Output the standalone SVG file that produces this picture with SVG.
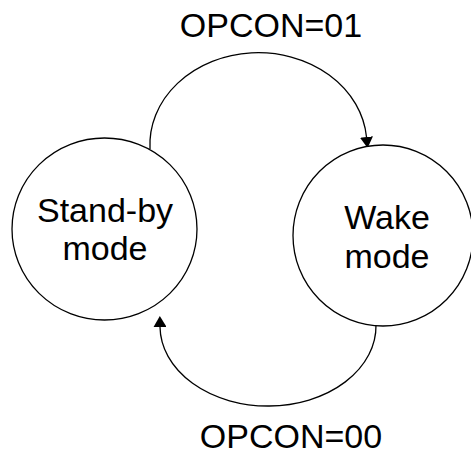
<svg xmlns="http://www.w3.org/2000/svg" width="471" height="455" viewBox="0 0 471 455">
<style>
.state{fill:#fff;stroke:#000;stroke-width:1.3}
.edge{fill:none;stroke:#000;stroke-width:1.3}
text{font-family:"Liberation Sans",Arial,sans-serif;font-size:34px;fill:#000;text-anchor:middle}
</style>
<defs>
<marker id="arr" viewBox="0 0 10 10" refX="0" refY="5" markerWidth="11" markerHeight="13" markerUnits="userSpaceOnUse" orient="auto" preserveAspectRatio="none">
<path d="M0,0 L10,5 L0,10 z" fill="#000"/>
</marker>
</defs>
<rect width="471" height="455" fill="#fff"/>
<g id="connectors">
<path class="edge" d="M150,149 A108.5,92 0 0 1 366.5,137" marker-end="url(#arr)"/>
<path class="edge" d="M376,325 A108,80 0 0 1 160,327" marker-end="url(#arr)"/>
</g>
<g id="standby">
<ellipse class="state" cx="104.5" cy="229" rx="92.5" ry="91"/>
<text x="105" y="222">Stand-by</text>
<text x="105" y="260">mode</text>
</g>
<g id="wake">
<ellipse class="state" cx="383" cy="235.5" rx="90" ry="90.5"/>
<text x="387" y="229">Wake</text>
<text x="387" y="268">mode</text>
</g>
<g id="labels">
<text x="271" y="37">OPCON=01</text>
<text x="291" y="448">OPCON=00</text>
</g>
</svg>
